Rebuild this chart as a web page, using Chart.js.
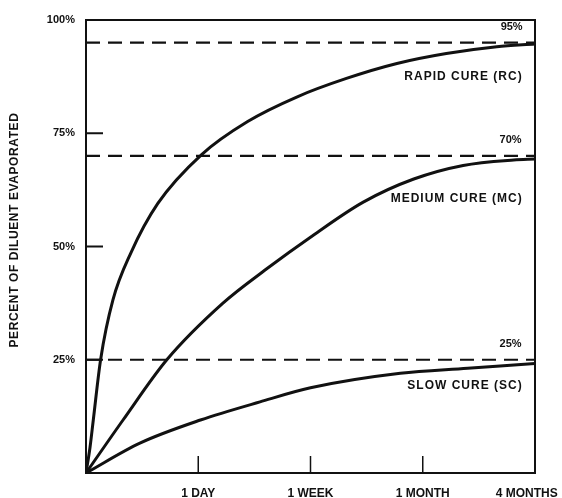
<!DOCTYPE html>
<html>
<head>
<meta charset="utf-8">
<script src="https://cdn.jsdelivr.net/npm/chart.js@4.4.1/dist/chart.umd.min.js"></script>
<style>
  html, body { margin: 0; padding: 0; background: #fff; }
  #c { display: block; }
</style>
</head>
<body>
<canvas id="c" width="562" height="498"></canvas>
<script>
// Axis labels (x is an evenly spaced, non-linear time axis: 0..4)
const timeLabels = ['', '1 DAY', '1 WEEK', '1 MONTH', '4 MONTHS'];
const percentLabels = ['', '25%', '50%', '75%', '100%'];

// Rapid cure (RC)
const rapidTime = [0, 0.036, 0.065, 0.13, 0.24, 0.40, 0.64, 1.03, 1.44, 1.877, 2.32, 2.77, 3.21, 3.66, 4.0];
const rapidPct  = [0, 5.7, 11.7, 25, 38.2, 48.6, 59.5, 70.3, 77.6, 83.0, 87.1, 90.4, 92.6, 94.1, 94.7];

// Medium cure (MC)
const mediumTime = [0, 0.33, 0.72, 1.22, 1.595, 2.025, 2.47, 2.92, 3.36, 3.81, 4.0];
const mediumPct  = [0, 11.7, 25, 37.5, 44.8, 52.5, 59.8, 64.9, 67.9, 69.1, 69.3];

// Slow cure (SC)
const slowTime = [0, 0.48, 1.02, 1.55, 2.0, 2.80, 3.40, 4.0];
const slowPct  = [0, 6.6, 11.7, 15.7, 18.8, 22.0, 23.1, 24.2];

// Ultimate evaporation levels (dashed)
const limitPct = [95, 70, 25];
const limitText = ['95%', '70%', '25%'];
const curveNames = ['RAPID CURE (RC)', 'MEDIUM CURE (MC)', 'SLOW CURE (SC)'];

const yTitle = 'PERCENT OF DILUENT EVAPORATED';

const INK = '#111';
const FONT = '"Liberation Sans", Arial, sans-serif';

const toPoints = (xs, ys) => xs.map((x, i) => ({ x, y: ys[i] }));

const curve = (label, xs, ys) => ({
  label,
  data: toPoints(xs, ys),
  borderColor: INK,
  borderWidth: 3,
  pointRadius: 0,
  cubicInterpolationMode: 'monotone',
  fill: false
});

const limitLine = (v) => ({
  label: v + '%',
  data: [{ x: 0, y: v }, { x: 4, y: v }],
  borderColor: INK,
  borderWidth: 2.2,
  borderDash: [14, 8],
  pointRadius: 0,
  fill: false
});

// Text placed inside the plot, in data coordinates (right-aligned)
const plotNotes = [
  { text: limitText[0], x: 3.89, y: 98.4 },
  { text: curveNames[0], x: 3.89, y: 87.4 },
  { text: limitText[1], x: 3.88, y: 73.5 },
  { text: curveNames[1], x: 3.89, y: 60.5 },
  { text: limitText[2], x: 3.88, y: 28.5 },
  { text: curveNames[2], x: 3.89, y: 19.2 }
];

const framePlugin = {
  id: 'frame',
  afterDatasetsDraw(chart) {
    const { ctx, chartArea: a, scales: { x, y } } = chart;
    ctx.save();
    ctx.strokeStyle = INK;
    // plot frame
    ctx.lineWidth = 2;
    ctx.strokeRect(a.left, a.top, a.right - a.left, a.bottom - a.top);
    // inward ticks on the time axis
    ctx.lineWidth = 1.5;
    [1, 2, 3].forEach(t => {
      const px = x.getPixelForValue(t);
      ctx.beginPath();
      ctx.moveTo(px, a.bottom);
      ctx.lineTo(px, a.bottom - 17);
      ctx.stroke();
    });
    // inward ticks on the percent axis
    ctx.lineWidth = 2;
    [25, 50, 75].forEach(v => {
      const py = y.getPixelForValue(v);
      ctx.beginPath();
      ctx.moveTo(a.left, py);
      ctx.lineTo(a.left + 17, py);
      ctx.stroke();
    });
    // notes
    ctx.fillStyle = INK;
    ctx.textAlign = 'right';
    ctx.textBaseline = 'middle';
    plotNotes.forEach(n => {
      const isPct = n.text.endsWith('%');
      ctx.font = 'bold ' + (isPct ? 11 : 12) + 'px ' + FONT;
      ctx.letterSpacing = isPct ? '0px' : '1px';
      ctx.fillText(n.text, x.getPixelForValue(n.x), y.getPixelForValue(n.y));
    });
    // rotated axis title
    ctx.letterSpacing = '0.6px';
    ctx.font = 'bold 12px ' + FONT;
    ctx.textAlign = 'center';
    ctx.translate(15, 230);
    ctx.rotate(-Math.PI / 2);
    ctx.fillText(yTitle, 0, 0);
    ctx.restore();
  }
};

new Chart(document.getElementById('c'), {
  type: 'line',
  data: {
    datasets: [
      curve(curveNames[0], rapidTime, rapidPct),
      curve(curveNames[1], mediumTime, mediumPct),
      curve(curveNames[2], slowTime, slowPct),
      ...limitPct.map(limitLine)
    ]
  },
  options: {
    responsive: false,
    animation: false,
    devicePixelRatio: 1,
    layout: { padding: { top: 20, right: 27, left: 0, bottom: 0 } },
    plugins: { legend: { display: false }, tooltip: { enabled: false } },
    scales: {
      x: {
        type: 'linear',
        min: 0, max: 4,
        grid: { display: false, drawTicks: false },
        border: { display: false },
        ticks: {
          stepSize: 1,
          padding: 13,
          color: INK,
          font: { family: FONT, size: 12, weight: 'bold' },
          maxRotation: 0,
          autoSkip: false,
          // the last label sits a little left of its tick so it stays on the page
          callback: (v) => {
            const i = Math.round(v);
            const s = timeLabels[i] ?? '';
            return i === timeLabels.length - 1 ? s + '\u00a0'.repeat(5) : s;
          }
        },
        afterFit(s) { s.height = 25; s.paddingLeft = 0; s.paddingRight = 0; }
      },
      y: {
        min: 0, max: 100,
        grid: { display: false, drawTicks: false },
        border: { display: false },
        ticks: {
          stepSize: 25,
          padding: 11,
          color: INK,
          font: { family: FONT, size: 11, weight: 'bold' },
          callback: (v) => percentLabels[Math.round(v / 25)] ?? ''
        },
        afterFit(s) { s.width = 86; s.paddingTop = 0; s.paddingBottom = 0; }
      }
    }
  },
  plugins: [framePlugin]
});
</script>
</body>
</html>
